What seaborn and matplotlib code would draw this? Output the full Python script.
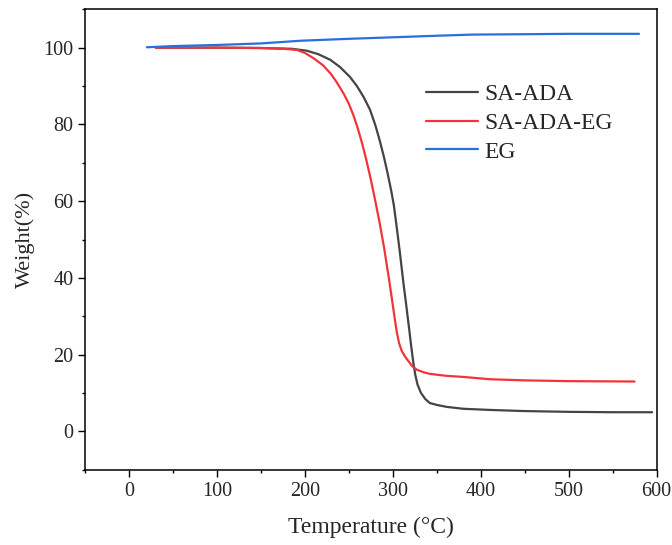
import matplotlib
matplotlib.use("Agg")
import matplotlib.pyplot as plt
import seaborn as sns
import pandas as pd
from matplotlib.ticker import MultipleLocator

# values
sa_ada_temp = [30, 100, 150, 185, 202, 215, 229, 240, 251, 259, 266.5, 274, 280,
               285, 290, 294, 298, 301, 304, 308, 312, 315, 318, 320.5, 323,
               325.5, 328, 332, 337, 342, 350, 361, 380, 410, 450, 500, 550, 595]
sa_ada_wt = [100.0, 100.0, 99.9, 99.7, 99.2, 98.3, 96.8, 94.9, 92.4, 90.0, 87.2,
             83.8, 79.8, 75.8, 71.3, 67.2, 62.8, 59.0, 53.8, 46.5, 38.6, 33.2,
             27.6, 22.8, 18.3, 14.7, 12.2, 10.0, 8.4, 7.4, 6.9, 6.4, 5.9, 5.6,
             5.3, 5.1, 5.0, 5.0]

sa_ada_eg_temp = [30, 100, 150, 175, 191, 200, 210, 220, 229, 236, 244, 250, 255,
                  260, 265, 270, 275, 280, 285, 290, 295, 299, 302, 304.5, 307,
                  310, 313, 316, 322, 327, 335, 342, 360, 380, 410, 450, 500, 575]
sa_ada_eg_wt = [100.0, 100.0, 99.9, 99.7, 99.4, 98.6, 97.2, 95.5, 93.3, 91.0,
                88.0, 85.3, 82.4, 79.0, 75.0, 70.5, 65.5, 60.0, 54.2, 47.8, 40.5,
                34.3, 29.5, 25.8, 23.0, 21.0, 19.8, 18.8, 17.0, 16.1, 15.4, 15.0,
                14.5, 14.2, 13.6, 13.3, 13.1, 13.0]

eg_temp = [20, 50, 100, 150, 195, 250, 300, 350, 390, 450, 500, 540, 580]
eg_wt = [100.1, 100.4, 100.7, 101.1, 101.8, 102.3, 102.7, 103.1, 103.4, 103.5,
         103.6, 103.6, 103.6]

series_names = ["SA-ADA", "SA-ADA-EG", "EG"]
series_colors = ["#444444", "#f2343a", "#2a6fdb"]

frames = []
for name, t, w in [("SA-ADA", sa_ada_temp, sa_ada_wt),
                   ("SA-ADA-EG", sa_ada_eg_temp, sa_ada_eg_wt),
                   ("EG", eg_temp, eg_wt)]:
    frames.append(pd.DataFrame({"temp": t, "weight": w, "sample": name}))
df = pd.concat(frames, ignore_index=True)

sns.set_style("ticks")
plt.rcParams["font.family"] = ["Liberation Serif", "DejaVu Serif"]

fig = plt.figure(figsize=(6.72, 5.45), dpi=100)
ax = fig.add_axes([0.127, 0.138, 0.850, 0.845])

sns.lineplot(
    data=df,
    x="temp",
    y="weight",
    hue="sample",
    hue_order=series_names,
    palette=series_colors,
    linewidth=1.6,
    sort=False,
    estimator=None,
    ax=ax,
    )

ax.set_xlim(-50, 600)
ax.set_ylim(-10, 110)
ax.xaxis.set_major_locator(MultipleLocator(100))
ax.xaxis.set_minor_locator(MultipleLocator(50))
ax.yaxis.set_major_locator(MultipleLocator(20))
ax.yaxis.set_minor_locator(MultipleLocator(10))
ax.tick_params(which="both", direction="out", top=False, right=False,
               labelsize=14.5, color="black", width=1.0)
ax.tick_params(which="major", length=5)
ax.tick_params(which="minor", length=2.5)
for s in ax.spines.values():
    s.set_linewidth(1.1)
    s.set_color("black")

ax.set_xlabel("Temperature (\u00b0C)", fontsize=17, labelpad=12)
ax.set_ylabel("Weight(%)", fontsize=16, labelpad=6)

ax.legend(title=None, frameon=False, fontsize=17, handlelength=2.2,
          handletextpad=0.25, labelspacing=0.3,
          loc="upper left", bbox_to_anchor=(0.56, 0.884))

fig.savefig("out.png", dpi=100)
